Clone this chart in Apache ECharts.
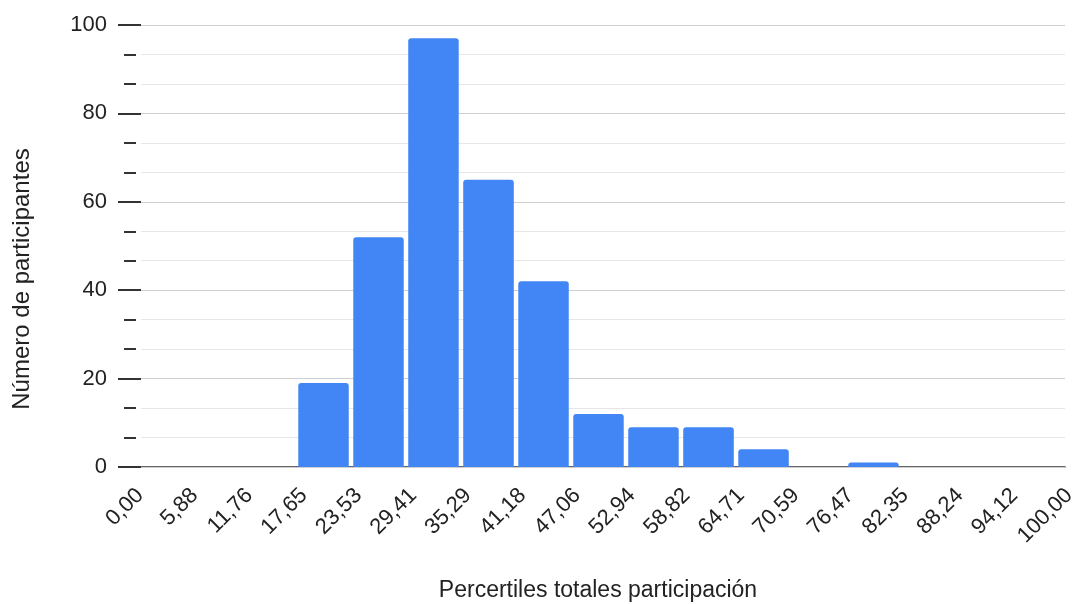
<!DOCTYPE html>
<html>
<head>
<meta charset="utf-8">
<script src="https://cdn.jsdelivr.net/npm/echarts@6/dist/echarts.min.js"></script>
<style>
  html, body { margin: 0; padding: 0; background: #fff; }
  #chart { width: 1079px; height: 604px; }
</style>
</head>
<body>
<div id="chart"></div>
<script>
// Bin edges of the histogram (percentiles), also used as the x tick labels
const binEdges = [0, 5.88, 11.76, 17.65, 23.53, 29.41, 35.29, 41.18, 47.06,
                  52.94, 58.82, 64.71, 70.59, 76.47, 82.35, 88.24, 94.12, 100];
// Participants per bin (17 bins)
const participantCounts = [0, 0, 0, 19, 52, 97, 65, 42, 12, 9, 9, 4, 0, 1, 0, 0, 0];
// Y axis tick values
const yTicks = [0, 20, 40, 60, 80, 100];

const xTitle = 'Percertiles totales participación';
const yTitle = 'Número de participantes';

const tickLabels = binEdges.map(v => v.toFixed(2).replace('.', ','));
const bins = participantCounts.map((c, i) => [binEdges[i], binEdges[i + 1], c]);

const FONT = '"Liberation Sans", Arial, sans-serif';
const TOP = 25, BOTTOM = 137;

const chart = echarts.init(document.getElementById('chart'), null, { renderer: 'canvas' });

chart.setOption({
  backgroundColor: '#ffffff',
  animation: false,
  grid: [
    // axes, gridlines and baseline
    { left: 141, right: 14, top: TOP, bottom: BOTTOM },
    // histogram bars
    { left: 131, width: 935, top: TOP, bottom: BOTTOM },
    // x tick labels
    { left: 140, width: 935, top: TOP, bottom: BOTTOM }
  ],
  xAxis: [
    {
      gridIndex: 0, type: 'value', min: 0, max: 100,
      axisLine: { show: true, lineStyle: { color: '#333', width: 1.5 } },
      axisTick: { show: false }, axisLabel: { show: false }, splitLine: { show: false }
    },
    {
      gridIndex: 1, type: 'value', min: 0, max: 100, show: false
    },
    {
      gridIndex: 2, type: 'category', boundaryGap: false, data: tickLabels,
      axisLine: { show: false }, axisTick: { show: false }, splitLine: { show: false },
      axisLabel: {
        interval: 0, rotate: 45, margin: 25,
        fontFamily: FONT, fontSize: 22, color: '#222'
      }
    }
  ],
  yAxis: [
    {
      gridIndex: 0, type: 'value', position: 'left',
      min: yTicks[0], max: yTicks[yTicks.length - 1],
      interval: yTicks[1] - yTicks[0], z: 3,
      axisLine: { show: false },
      axisTick: { show: true, length: 23, lineStyle: { color: '#333', width: 2 } },
      axisLabel: { margin: 34, fontFamily: FONT, fontSize: 22, color: '#222' },
      splitLine: { show: true, lineStyle: { color: '#cfcfcf', width: 1 } }
    },
    {
      gridIndex: 0, type: 'value', position: 'left',
      min: yTicks[0], max: yTicks[yTicks.length - 1],
      interval: yTicks[1] - yTicks[0], offset: 5, z: 1,
      axisLine: { show: false }, axisTick: { show: false }, axisLabel: { show: false },
      splitLine: { show: false },
      minorTick: { show: true, splitNumber: 3, length: 12, lineStyle: { color: '#333', width: 2 } },
      minorSplitLine: { show: true, lineStyle: { color: '#e6e6e6', width: 1 } }
    },
    { gridIndex: 1, type: 'value', min: 0, max: 100, show: false },
    { gridIndex: 2, type: 'value', min: 0, max: 100, show: false }
  ],
  series: [
    {
      type: 'custom',
      xAxisIndex: 1, yAxisIndex: 2,
      z: 5,
      data: bins,
      renderItem: function (params, api) {
        const x0 = api.value(0), x1 = api.value(1), v = api.value(2);
        if (!v) return null;
        const top = api.coord([x0, v]);
        const base = api.coord([x1, 0]);
        const inset = 2.25;
        return {
          type: 'rect',
          shape: {
            x: top[0] + inset, y: top[1],
            width: base[0] - top[0] - inset * 2, height: base[1] - top[1],
            r: [3, 3, 0, 0]
          },
          style: { fill: '#4285f4' }
        };
      }
    }
  ],
  graphic: [
    {
      type: 'text', x: 598, y: 591,
      style: {
        text: xTitle, x: 0, y: 0, align: 'center', verticalAlign: 'middle',
        font: '23px ' + FONT, fill: '#222'
      }
    },
    {
      type: 'text', x: 22, y: 279, rotation: Math.PI / 2,
      style: {
        text: yTitle, x: 0, y: 0, align: 'center', verticalAlign: 'middle',
        font: '24px ' + FONT, fill: '#222'
      }
    }
  ]
});
</script>
</body>
</html>
